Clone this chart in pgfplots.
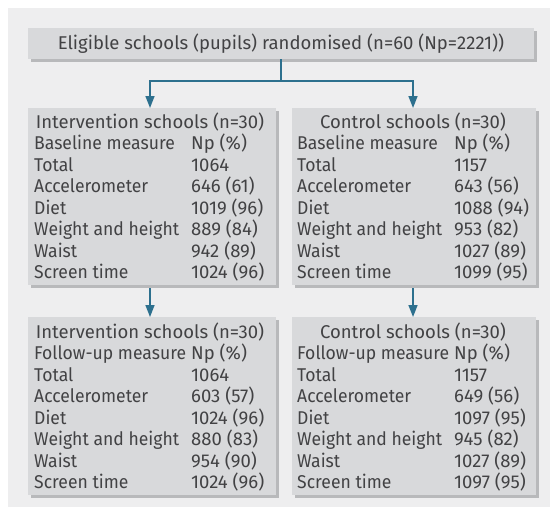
\documentclass[border=0pt]{standalone}
\usepackage{graphicx}
\usepackage{pgfplots}
\pgfplotsset{compat=1.18}
\usepackage{fontspec}
\setmainfont{Fira Sans}
\usetikzlibrary{arrows.meta}
\definecolor{bg}{RGB}{238,238,239}
\definecolor{boxc}{RGB}{216,217,219}
\definecolor{shad}{RGB}{184,185,187}
\definecolor{txt}{RGB}{66,66,68}
\definecolor{arr}{RGB}{45,112,142}
\newcommand{\fs}{\fontsize{18.5bp}{21bp}\selectfont}
\newcommand{\TL}[3]{\node[anchor=base west,inner sep=0pt,text=txt,font=\fs] at (axis cs:#1,#2) {#3};}
\newcommand{\TS}[3]{\node[anchor=base west,inner sep=0pt,text=txt,font=\fs] at (axis cs:#1,#2) {\scalebox{0.95}[1]{#3}};}
\newcommand{\TC}[3]{\node[anchor=base,inner sep=0pt,text=txt,font=\fs] at (axis cs:#1,#2) {#3};}
\begin{document}
\begin{tikzpicture}
\begin{axis}[scale only axis, width=550bp, height=507bp, xmin=0, xmax=550, ymin=0, ymax=507,
  y dir=reverse, hide axis, clip=false]
\fill[white] (axis cs:0,0) rectangle (axis cs:550,507);
\fill[bg] (axis cs:8,8) rectangle (axis cs:550,507);
% shadows
\fill[shad] (axis cs:31,31) rectangle (axis cs:537,62);
\fill[shad] (axis cs:31,111) rectangle (axis cs:279,288);
\fill[shad] (axis cs:295,111) rectangle (axis cs:539,288);
\fill[shad] (axis cs:31,320) rectangle (axis cs:279,498);
\fill[shad] (axis cs:295,320) rectangle (axis cs:539,498);
% boxes
\fill[boxc] (axis cs:28,28) rectangle (axis cs:534,59);
\fill[boxc] (axis cs:28,108) rectangle (axis cs:276,285);
\fill[boxc] (axis cs:292,108) rectangle (axis cs:536,285);
\fill[boxc] (axis cs:28,317) rectangle (axis cs:276,495);
\fill[boxc] (axis cs:292,317) rectangle (axis cs:536,495);
% connectors
\addplot[arr, line width=1.6bp] coordinates {(281,59) (281,81)};
\addplot[arr, line width=1.6bp] coordinates {(150,81) (413,81)};
\addplot[arr, line width=1.6bp, -{Triangle[length=12bp,width=9bp]}] coordinates {(150,80.2) (150,108)};
\addplot[arr, line width=1.6bp, -{Triangle[length=12bp,width=9bp]}] coordinates {(413,80.2) (413,108)};
\addplot[arr, line width=1.6bp, -{Triangle[length=12bp,width=9bp]}] coordinates {(150,288) (150,317)};
\addplot[arr, line width=1.6bp, -{Triangle[length=12bp,width=9bp]}] coordinates {(413,288) (413,317)};
% top text
\TC{281}{50}{Eligible schools (pupils) randomised (n=60 (Np=2221))}
% box 1
\TC{150}{128.3}{Intervention schools (n=30)}
\TS{34}{149.75}{Baseline measure}\TL{191}{149.75}{Np (\%)}
\TS{34}{171.2}{Total}\TL{191}{171.2}{1064}
\TS{34}{192.65}{Accelerometer}\TL{191}{192.65}{646 (61)}
\TS{34}{214.1}{Diet}\TL{191}{214.1}{1019 (96)}
\TS{34}{235.55}{Weight and height}\TL{191}{235.55}{889 (84)}
\TS{34}{257.0}{Waist}\TL{191}{257.0}{942 (89)}
\TS{34}{278.45}{Screen time}\TL{191}{278.45}{1024 (96)}
% box 2
\TC{413}{128.3}{Control schools (n=30)}
\TS{297}{149.75}{Baseline measure}\TL{454}{149.75}{Np (\%)}
\TS{297}{171.2}{Total}\TL{454}{171.2}{1157}
\TS{297}{192.65}{Accelerometer}\TL{454}{192.65}{643 (56)}
\TS{297}{214.1}{Diet}\TL{454}{214.1}{1088 (94)}
\TS{297}{235.55}{Weight and height}\TL{454}{235.55}{953 (82)}
\TS{297}{257.0}{Waist}\TL{454}{257.0}{1027 (89)}
\TS{297}{278.45}{Screen time}\TL{454}{278.45}{1099 (95)}
% box 3
\TC{150}{338.5}{Intervention schools (n=30)}
\TS{34}{359.95}{Follow-up measure}\TL{191}{359.95}{Np (\%)}
\TS{34}{381.4}{Total}\TL{191}{381.4}{1064}
\TS{34}{402.85}{Accelerometer}\TL{191}{402.85}{603 (57)}
\TS{34}{424.3}{Diet}\TL{191}{424.3}{1024 (96)}
\TS{34}{445.75}{Weight and height}\TL{191}{445.75}{880 (83)}
\TS{34}{467.2}{Waist}\TL{191}{467.2}{954 (90)}
\TS{34}{488.65}{Screen time}\TL{191}{488.65}{1024 (96)}
% box 4
\TC{413}{338.5}{Control schools (n=30)}
\TS{297}{359.95}{Follow-up measure}\TL{454}{359.95}{Np (\%)}
\TS{297}{381.4}{Total}\TL{454}{381.4}{1157}
\TS{297}{402.85}{Accelerometer}\TL{454}{402.85}{649 (56)}
\TS{297}{424.3}{Diet}\TL{454}{424.3}{1097 (95)}
\TS{297}{445.75}{Weight and height}\TL{454}{445.75}{945 (82)}
\TS{297}{467.2}{Waist}\TL{454}{467.2}{1027 (89)}
\TS{297}{488.65}{Screen time}\TL{454}{488.65}{1097 (95)}
\end{axis}
\end{tikzpicture}
\end{document}
